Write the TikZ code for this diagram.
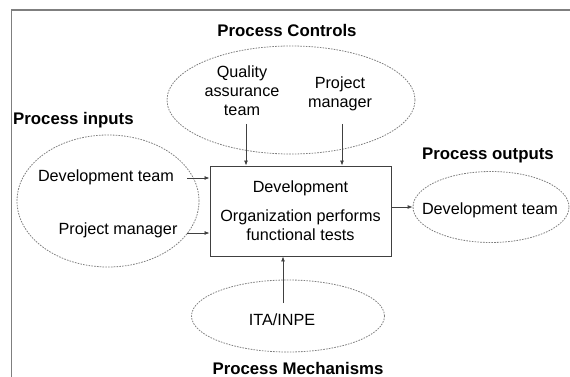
\documentclass[tikz,border=0pt]{standalone}
\usepackage{fontspec}
\setmainfont{Liberation Sans}
\usetikzlibrary{shapes.geometric,arrows.meta}
\definecolor{linegray}{HTML}{404040}
\definecolor{framegray}{HTML}{7F7F7F}
\tikzstyle{cloud}=[draw=framegray,dash pattern=on 1.6pt off 1.2pt,line width=0.8pt,shape=ellipse,inner sep=0pt]
\tikzstyle{txt}=[font=\fontsize{16.2}{19}\selectfont,align=center,inner sep=0pt]
\tikzstyle{head}=[font=\bfseries\fontsize{16.8}{20}\selectfont,inner sep=0pt]
\tikzstyle{arr}=[draw=linegray,line width=0.8pt,-{Latex[length=5pt,width=4pt]}]

\begin{document}
\begin{tikzpicture}[x=1pt,y=-1pt]
\useasboundingbox (0,0) rectangle (570,377);
% frame
\draw[framegray,line width=1.3pt] (11.5,380) -- (11.5,10) -- (575,10);
% ellipses
\node[cloud,minimum width=248,minimum height=108] (ctrl) at (291,100) {};
\node[cloud,minimum width=182,minimum height=132] (inp) at (108,201) {};
\node[cloud,minimum width=156,minimum height=71] (outp) at (491,207) {};
\node[cloud,minimum width=193,minimum height=72] (mech) at (288,316) {};
% headings
\node[head] (hctrl) at (287,30) {Process Controls};
\node[head,anchor=west] (hinp) at (13,120) {Process inputs};
\node[head] (houtp) at (488,155) {Process outputs};
\node[head] (hmech) at (298,368) {Process Mechanisms};
% main box
\node[draw=linegray,line width=0.9pt,minimum width=181,minimum height=90,txt] (box) at (300.5,211)
  {Development\\[10pt]Organization performs\\functional tests};
% texts
\node[txt] (qat) at (242,91) {Quality\\assurance\\team};
\node[txt] (pmc) at (340,93.5) {Project\\manager};
\node[txt] (devin) at (106,177) {Development team};
\node[txt] (pmin) at (118,230) {Project manager};
\node[txt] (devout) at (490,210) {Development team};
\node[txt] (ita) at (282,320) {ITA/INPE};
% arrow starts
\coordinate (qa) at (246,124);
\coordinate (pm) at (342,124);
\coordinate (dv) at (187,178);
\coordinate (pj) at (187,233);
\coordinate (it) at (283,303);
% arrows
\draw[arr] (qa) -- (qa |- box.north);
\draw[arr] (pm) -- (pm |- box.north);
\draw[arr] (dv) -- (dv -| box.west);
\draw[arr] (pj) -- (pj -| box.west);
\draw[arr] (it) -- (it |- box.south);
\draw[arr] (box.east |- outp) -- (outp.west);
\end{tikzpicture}
\end{document}
